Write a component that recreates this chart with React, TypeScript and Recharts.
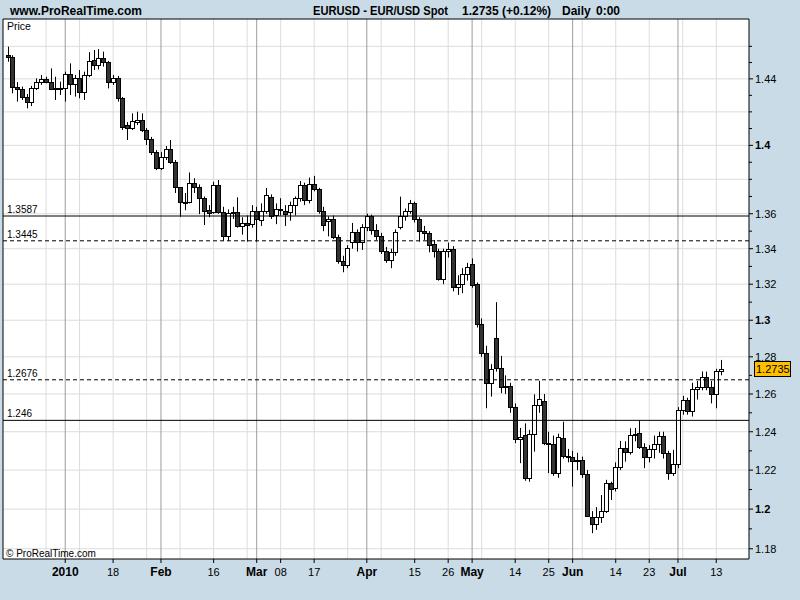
import React from 'react';
import { ComposedChart, Bar, XAxis, YAxis, CartesianGrid, ReferenceLine } from 'recharts';

// EUR/USD daily candles, 16 Dec 2009 .. 14 Jul 2010 (index 0 = first candle)
const opens = [
  1.4547, 1.4533, 1.4349, 1.4338, 1.4290, 1.4258, 1.4342, 1.4382, 1.4400, 1.4380,
  1.4340, 1.4343, 1.4346, 1.4428, 1.4367, 1.4403, 1.4318, 1.4424, 1.4516, 1.4485,
  1.4526, 1.4505, 1.4383, 1.4407, 1.4286, 1.4121, 1.4101, 1.4141, 1.4151, 1.4091,
  1.4036, 1.3962, 1.3864, 1.3933, 1.3978, 1.3902, 1.3753, 1.3667, 1.3668, 1.3776,
  1.3753, 1.3689, 1.3620, 1.3608, 1.3767, 1.3608, 1.3473, 1.3603, 1.3612, 1.3530,
  1.3545, 1.3541, 1.3618, 1.3564, 1.3618, 1.3698, 1.3595, 1.3628, 1.3618, 1.3608,
  1.3650, 1.3689, 1.3767, 1.3679, 1.3770, 1.3743, 1.3616, 1.3560, 1.3570, 1.3468,
  1.3330, 1.3308, 1.3437, 1.3493, 1.3437, 1.3525, 1.3589, 1.3507, 1.3473, 1.3385,
  1.3336, 1.3380, 1.3525, 1.3589, 1.3618, 1.3660, 1.3568, 1.3503, 1.3488, 1.3425,
  1.3389, 1.3228, 1.3387, 1.3398, 1.3183, 1.3200, 1.3256, 1.3312, 1.3200, 1.2980,
  1.2822, 1.2657, 1.2901, 1.2740, 1.2639, 1.2644, 1.2532, 1.2361, 1.2383, 1.2160,
  1.2388, 1.2541, 1.2564, 1.2343, 1.2336, 1.2184, 1.2365, 1.2273, 1.2270, 1.2249,
  1.2253, 1.2181, 1.1962, 1.1923, 1.1959, 1.1988, 1.2132, 1.2106, 1.2215, 1.2317,
  1.2296, 1.2384, 1.2394, 1.2322, 1.2267, 1.2308, 1.2334, 1.2377, 1.2288, 1.2184,
  1.2231, 1.2515, 1.2567, 1.2510, 1.2625, 1.2640, 1.2689, 1.2640, 1.2602, 1.2723,
];
const highs = [
  1.4598, 1.4545, 1.4380, 1.4353, 1.4308, 1.4357, 1.4403, 1.4424, 1.4413, 1.4464,
  1.4413, 1.4383, 1.4444, 1.4495, 1.4424, 1.4454, 1.4444, 1.4564, 1.4577, 1.4583,
  1.4567, 1.4510, 1.4424, 1.4418, 1.4290, 1.4139, 1.4191, 1.4201, 1.4191, 1.4103,
  1.4050, 1.3972, 1.3960, 1.3996, 1.4032, 1.3913, 1.3755, 1.3720, 1.3840, 1.3806,
  1.3770, 1.3700, 1.3650, 1.3786, 1.3796, 1.3640, 1.3625, 1.3640, 1.3695, 1.3580,
  1.3590, 1.3650, 1.3640, 1.3660, 1.3749, 1.3712, 1.3660, 1.3690, 1.3650, 1.3670,
  1.3700, 1.3790, 1.3780, 1.3810, 1.3820, 1.3750, 1.3640, 1.3585, 1.3590, 1.3480,
  1.3360, 1.3420, 1.3547, 1.3510, 1.3540, 1.3600, 1.3595, 1.3540, 1.3490, 1.3410,
  1.3400, 1.3510, 1.3699, 1.3630, 1.3680, 1.3670, 1.3580, 1.3530, 1.3500, 1.3450,
  1.3400, 1.3400, 1.3435, 1.3415, 1.3250, 1.3290, 1.3320, 1.3345, 1.3210, 1.3010,
  1.2860, 1.2760, 1.3100, 1.2805, 1.2700, 1.2660, 1.2550, 1.2420, 1.2444, 1.2410,
  1.2598, 1.2671, 1.2600, 1.2400, 1.2380, 1.2390, 1.2453, 1.2310, 1.2300, 1.2290,
  1.2270, 1.2200, 1.1990, 1.2010, 1.2072, 1.2150, 1.2140, 1.2240, 1.2352, 1.2350,
  1.2418, 1.2420, 1.2462, 1.2340, 1.2330, 1.2380, 1.2400, 1.2400, 1.2300, 1.2305,
  1.2530, 1.2590, 1.2580, 1.2660, 1.2670, 1.2721, 1.2720, 1.2670, 1.2735, 1.2783,
];
const lows = [
  1.4505, 1.4312, 1.4262, 1.4272, 1.4221, 1.4235, 1.4332, 1.4363, 1.4373, 1.4332,
  1.4272, 1.4302, 1.4262, 1.4302, 1.4292, 1.4282, 1.4272, 1.4411, 1.4454, 1.4458,
  1.4475, 1.4342, 1.4363, 1.4262, 1.4091, 1.4032, 1.4091, 1.4121, 1.4079, 1.4002,
  1.3943, 1.3854, 1.3854, 1.3913, 1.3890, 1.3720, 1.3583, 1.3620, 1.3660, 1.3720,
  1.3598, 1.3535, 1.3580, 1.3600, 1.3600, 1.3445, 1.3445, 1.3570, 1.3520, 1.3480,
  1.3440, 1.3520, 1.3440, 1.3530, 1.3600, 1.3570, 1.3540, 1.3590, 1.3530, 1.3560,
  1.3590, 1.3670, 1.3650, 1.3660, 1.3730, 1.3600, 1.3500, 1.3470, 1.3455, 1.3315,
  1.3267, 1.3290, 1.3400, 1.3384, 1.3393, 1.3500, 1.3480, 1.3450, 1.3370, 1.3320,
  1.3290, 1.3360, 1.3510, 1.3560, 1.3600, 1.3550, 1.3440, 1.3450, 1.3380, 1.3350,
  1.3220, 1.3200, 1.3350, 1.3160, 1.3140, 1.3150, 1.3220, 1.3180, 1.2960, 1.2800,
  1.2524, 1.2586, 1.2720, 1.2604, 1.2600, 1.2500, 1.2340, 1.2236, 1.2145, 1.2140,
  1.2296, 1.2500, 1.2330, 1.2184, 1.2170, 1.2160, 1.2260, 1.2240, 1.2115, 1.2200,
  1.2160, 1.1960, 1.1878, 1.1895, 1.1930, 1.1980, 1.2047, 1.2090, 1.2200, 1.2244,
  1.2280, 1.2350, 1.2310, 1.2210, 1.2240, 1.2260, 1.2290, 1.2260, 1.2150, 1.2170,
  1.2210, 1.2490, 1.2490, 1.2480, 1.2570, 1.2620, 1.2620, 1.2550, 1.2524, 1.2700,
];
const closes = [
  1.4533, 1.4349, 1.4338, 1.4287, 1.4258, 1.4342, 1.4382, 1.4400, 1.4380, 1.4340,
  1.4343, 1.4340, 1.4428, 1.4367, 1.4403, 1.4318, 1.4424, 1.4512, 1.4485, 1.4526,
  1.4505, 1.4383, 1.4407, 1.4286, 1.4111, 1.4101, 1.4145, 1.4151, 1.4091, 1.4036,
  1.3962, 1.3864, 1.3933, 1.3978, 1.3902, 1.3753, 1.3667, 1.3660, 1.3776, 1.3753,
  1.3689, 1.3618, 1.3603, 1.3767, 1.3608, 1.3473, 1.3603, 1.3612, 1.3530, 1.3545,
  1.3535, 1.3618, 1.3570, 1.3618, 1.3708, 1.3587, 1.3628, 1.3630, 1.3600, 1.3650,
  1.3689, 1.3767, 1.3679, 1.3770, 1.3743, 1.3616, 1.3535, 1.3570, 1.3468, 1.3330,
  1.3308, 1.3405, 1.3493, 1.3437, 1.3525, 1.3589, 1.3507, 1.3473, 1.3385, 1.3336,
  1.3380, 1.3498, 1.3589, 1.3618, 1.3660, 1.3568, 1.3503, 1.3488, 1.3421, 1.3389,
  1.3228, 1.3387, 1.3398, 1.3183, 1.3200, 1.3256, 1.3298, 1.3195, 1.2980, 1.2822,
  1.2657, 1.2734, 1.2740, 1.2639, 1.2644, 1.2532, 1.2361, 1.2375, 1.2160, 1.2388,
  1.2541, 1.2572, 1.2343, 1.2336, 1.2184, 1.2370, 1.2273, 1.2267, 1.2249, 1.2253,
  1.2181, 1.1966, 1.1923, 1.1959, 1.1988, 1.2132, 1.2101, 1.2215, 1.2317, 1.2296,
  1.2384, 1.2390, 1.2322, 1.2267, 1.2308, 1.2334, 1.2377, 1.2288, 1.2184, 1.2231,
  1.2515, 1.2567, 1.2510, 1.2625, 1.2640, 1.2689, 1.2640, 1.2602, 1.2723, 1.2735,
];

// x axis labels (candle index -> label)
const dayTicks = [12, 22, 32, 43, 52, 57, 64, 75, 85, 92, 97, 106, 113, 118, 127, 134, 140, 148];
const dayLabels = ['2010', '18', 'Feb', '16', 'Mar', '08', '17', 'Apr', '15', '26', 'May', '14', '25', 'Jun', '14', '23', 'Jul', '13'];
const boldDays = ['2010', 'Feb', 'Mar', 'Apr', 'May', 'Jun', 'Jul'];
const monthLines = [12, 32, 52, 75, 97, 118, 140];
const weekLines = [8, 15, 22, 29, 36, 43, 50, 57, 64, 71, 78, 85, 92, 99, 106, 113, 120, 127, 134, 141, 148];

// y axis
const priceTicks = [
  1.18, 1.19, 1.2, 1.21, 1.22, 1.23, 1.24, 1.25, 1.26, 1.27, 1.28, 1.29, 1.3, 1.31, 1.32,
  1.33, 1.34, 1.35, 1.36, 1.37, 1.38, 1.39, 1.4, 1.41, 1.42, 1.43, 1.44, 1.45, 1.46,
];
const priceLabels = [1.18, 1.2, 1.22, 1.24, 1.26, 1.28, 1.3, 1.32, 1.34, 1.36, 1.4, 1.44];
const boldPrices = [1.2, 1.3, 1.4];
const priceGrid = [1.18, 1.2, 1.22, 1.24, 1.26, 1.28, 1.3, 1.32, 1.34, 1.36, 1.38, 1.4, 1.42, 1.44, 1.46];

// horizontal levels drawn on the chart
const levels = [1.3587, 1.3445, 1.2676, 1.246];
const levelNames = ['1.3587', '1.3445', '1.2676', '1.246'];
const levelDashed = [false, true, true, false];

const lastPrice = 1.2735;
const X_DOMAIN = [-1, 154.84];
const Y_DOMAIN = [1.1749, 1.477];

const FONT = "'Liberation Sans', Arial, sans-serif";

const data = opens.map((o, i) => ({
  i,
  range: [lows[i], highs[i]],
  open: o,
  high: highs[i],
  low: lows[i],
  close: closes[i],
}));

function Candle(props: any) {
  const { x, y, width, height, payload } = props;
  if (x == null || y == null || !payload) return null;
  const top = Math.min(y, y + height);
  const h = Math.abs(height);
  const cx = Math.round(x + width / 2) + 0.5;
  const lh = Math.log(payload.high);
  const ll = Math.log(payload.low);
  const py = (p: number) => top + (h * (lh - Math.log(p))) / (lh - ll || 1);
  const up = payload.close >= payload.open;
  const bTop = Math.round(py(Math.max(payload.open, payload.close))) + 0.5;
  let bBot = Math.round(py(Math.min(payload.open, payload.close))) + 0.5;
  if (bBot - bTop < 1) bBot = bTop + 1;
  return (
    <g>
      <line x1={cx} x2={cx} y1={top} y2={top + h} stroke="#000" strokeWidth={1} />
      <rect x={cx - 2} y={bTop} width={4} height={bBot - bTop} fill={up ? '#fff' : '#333'} stroke="#000" strokeWidth={1} />
    </g>
  );
}

function DayTick(props: any) {
  const { x, y, payload } = props;
  const k = dayTicks.indexOf(payload.value);
  const label = k >= 0 ? dayLabels[k] : '';
  const bold = boldDays.includes(label);
  return (
    <g>
      <line x1={x} x2={x} y1={y} y2={y + 4} stroke="#000" />
      <text x={x} y={y + 17} textAnchor="middle" fontFamily={FONT} fontSize={bold ? 12 : 11} fontWeight={bold ? 'bold' : 'normal'} fill="#000">
        {label}
      </text>
    </g>
  );
}

function PriceTick(props: any) {
  const { x, y, payload } = props;
  const v = payload.value;
  const labeled = priceLabels.includes(v);
  const bold = boldPrices.includes(v);
  return (
    <g>
      <line x1={x} x2={x + (labeled ? 4 : 3)} y1={y} y2={y} stroke="#000" />
      {labeled && (
        <text x={x + 6} y={y + 4} fontFamily={FONT} fontSize={11} fontWeight={bold ? 'bold' : 'normal'} fill="#000">
          {String(v)}
        </text>
      )}
    </g>
  );
}

function LevelLabel(props: any) {
  const { viewBox, text } = props;
  if (!viewBox) return null;
  return (
    <text x={viewBox.x + 4} y={viewBox.y - 3} fontFamily={FONT} fontSize={10} fill="#000">
      {text}
    </text>
  );
}

function PriceTag(props: any) {
  const { viewBox } = props;
  if (!viewBox) return null;
  const left = viewBox.x + viewBox.width + 5;
  const cy = viewBox.y;
  return (
    <g>
      <rect x={left + 0.5} y={Math.round(cy - 7.5) + 0.5} width={36} height={15} fill="#FFC000" stroke="#000" />
      <text x={left + 2} y={cy + 4} fontFamily={FONT} fontSize={11} fill="#000">
        {lastPrice.toFixed(4)}
      </text>
    </g>
  );
}

export default function App() {
  return (
    <div style={{ position: 'absolute', left: 0, top: 0, width: 800, height: 600, background: '#C9DBE6' }}>
      <ComposedChart width={800} height={600} data={data} margin={{ top: 19, right: 0, bottom: 0, left: 3 }}>
        <CartesianGrid fill="#fff" stroke="#dcdcdc" horizontalValues={priceGrid} verticalValues={weekLines} />
        <CartesianGrid fill="none" stroke="#9c9c9c" horizontal={false} verticalValues={monthLines} />
        <XAxis
          dataKey="i"
          type="number"
          domain={X_DOMAIN}
          allowDataOverflow
          ticks={dayTicks}
          interval={0}
          tick={<DayTick />}
          tickLine={false}
          tickSize={0}
          tickMargin={0}
          height={41}
          axisLine={{ stroke: '#000' }}
        />
        <YAxis
          orientation="right"
          scale="log"
          domain={Y_DOMAIN}
          allowDataOverflow
          ticks={priceTicks}
          interval={0}
          tick={<PriceTick />}
          tickLine={false}
          tickSize={0}
          tickMargin={0}
          width={51}
          axisLine={{ stroke: '#000' }}
        />
        <ReferenceLine x={X_DOMAIN[0]} stroke="#000" />
        <ReferenceLine y={Y_DOMAIN[1]} stroke="#000" />
        <Bar dataKey="range" barSize={5} shape={<Candle />} isAnimationActive={false} />
        {levels.map((lv, k) => (
          <ReferenceLine
            key={lv}
            y={lv}
            stroke="#000"
            strokeDasharray={levelDashed[k] ? '4 3' : undefined}
            label={<LevelLabel text={levelNames[k]} />}
          />
        ))}
        <ReferenceLine y={lastPrice} stroke="none" label={<PriceTag />} />
      </ComposedChart>
      <svg width={800} height={600} style={{ position: 'absolute', left: 0, top: 0, pointerEvents: 'none' }}>
        <g fontFamily={FONT} fill="#000">
          <text x={10} y={15} fontSize={12} fontWeight="bold">www.ProRealTime.com</text>
          <text x={313} y={15} fontSize={12} fontWeight="bold" textLength={135} lengthAdjust="spacingAndGlyphs">EURUSD - EUR/USD Spot</text>
          <text x={462} y={15} fontSize={12} fontWeight="bold">1.2735 (+0.12%)</text>
          <text x={562} y={15} fontSize={12} fontWeight="bold">Daily</text>
          <text x={596} y={15} fontSize={12} fontWeight="bold">0:00</text>
          <text x={7} y={30} fontSize={10.5}>Price</text>
          <text x={6} y={557} fontSize={10}>© ProRealTime.com</text>
        </g>
      </svg>
    </div>
  );
}
